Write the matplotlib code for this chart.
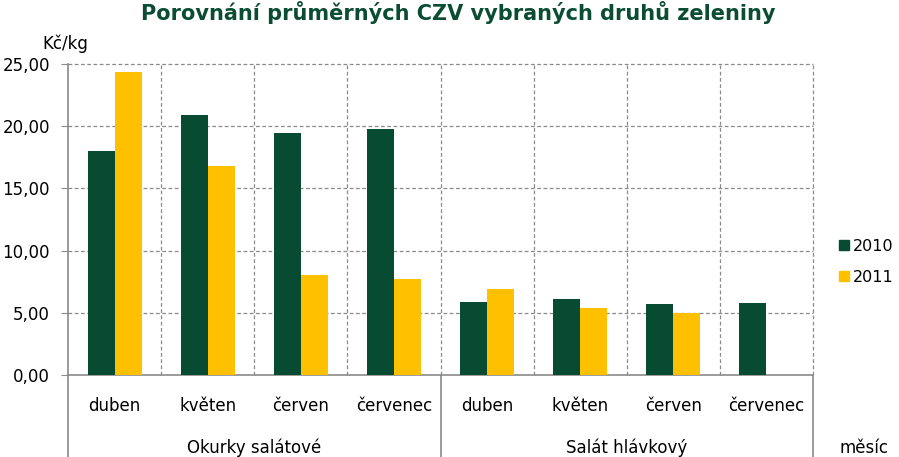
import matplotlib.pyplot as plt
from matplotlib.patches import Patch
from matplotlib.ticker import FuncFormatter, MultipleLocator
import numpy as np

# data
groups = ['Okurky salátové', 'Salát hlávkový']
months = ['duben', 'květen', 'červen', 'červenec']
labels = months * 2
v2010 = [18.0, 20.9, 19.45, 19.78, 5.87, 6.11, 5.71, 5.79]
v2011 = [24.35, 16.8, 8.04, 7.72, 6.91, 5.39, 4.98, np.nan]
series = ['2010', '2011']
colors = ['#064B32', '#FFC000']

plt.rcParams['font.family'] = ['DejaVu Sans']
gray = '#8A8A8A'
fs = 12

fig = plt.figure(figsize=(8.99, 4.57), dpi=100)
ax = fig.add_axes([68/899, 82/457, 745/899, 311/457])

x = np.arange(len(labels)) + 0.5
w = 0.29
ax.bar(x - w/2, v2010, w, color=colors[0], zorder=3)
ax.bar(x + w/2, v2011, w, color=colors[1], zorder=3)

ax.set_xlim(0, 8)
ax.set_ylim(0, 25)
ax.yaxis.set_major_locator(MultipleLocator(5))
ax.yaxis.set_major_formatter(FuncFormatter(lambda v, p: f'{v:.2f}'.replace('.', ',')))
for yv in range(5, 26, 5):
    ax.axhline(yv, linestyle=(0, (3, 2)), color=gray, linewidth=0.9, zorder=0, clip_on=False)
for xv in range(1, 9):
    ax.axvline(xv, linestyle=(0, (3, 2)), color=gray, linewidth=0.9, zorder=0, clip_on=False)

for s in ['top', 'right']:
    ax.spines[s].set_visible(False)
for s in ['left', 'bottom']:
    ax.spines[s].set_color(gray)
    ax.spines[s].set_linewidth(1.2)

ax.set_xticks(x)
ax.set_xticklabels(labels, fontsize=fs)
ax.tick_params(axis='x', length=0, pad=16)
ax.tick_params(axis='y', labelsize=fs, length=5, color=gray, pad=8)

# separators below the axis
tr = ax.get_xaxis_transform()
for xv in [0, 4, 8]:
    ax.plot([xv, xv], [0, -0.27], transform=tr, color=gray, linewidth=1.2, clip_on=False)

for i, g in enumerate(groups):
    ax.text(2 + 4*i, -0.235, g, transform=tr, ha='center', va='center', fontsize=fs)
ax.text(8.55, -0.235, 'měsíc', transform=tr, ha='center', va='center', fontsize=fs)

fig.text(42/899, 1 - 44/457, 'Kč/kg', ha='left', va='center', fontsize=fs)
fig.text(458/899, 1 - 12/457, 'Porovnání průměrných CZV vybraných druhů zeleniny',
         ha='center', va='center', fontsize=15, fontweight='bold', color='#0B4D33')

handles = [Patch(color=c, label=s) for c, s in zip(colors, series)]
fig.legend(handles=handles, loc='center left', bbox_to_anchor=(839/899, 1 - 262/457),
           frameon=False, fontsize=11.5, handlelength=0.6, handleheight=0.6,
           handletextpad=0.3, labelspacing=1.0, borderpad=0, borderaxespad=0)

fig.savefig('out.png', dpi=100)
